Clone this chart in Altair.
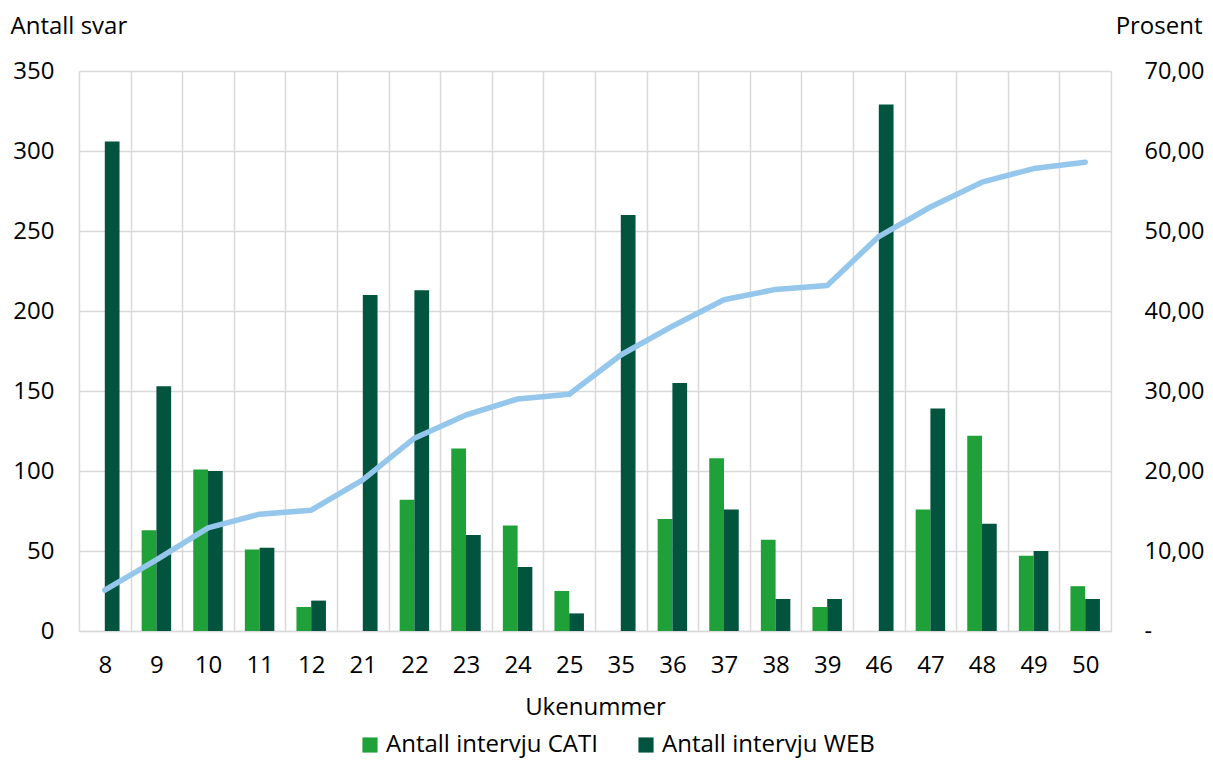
import altair as alt
import pandas as pd

weeks = ["8", "9", "10", "11", "12", "21", "22", "23", "24", "25",
         "35", "36", "37", "38", "39", "46", "47", "48", "49", "50"]
cati = [0, 63, 101, 51, 15, 0, 82, 114, 66, 25, 0, 70, 108, 57, 15, 0, 76, 122, 47, 28]
web = [306, 153, 100, 52, 19, 210, 213, 60, 40, 11, 260, 155, 76, 20, 20, 329, 139, 67, 50, 20]
prosent = [5.1, 8.9, 12.9, 14.6, 15.1, 18.9, 24.1, 27.0, 29.0, 29.6,
           34.5, 38.1, 41.4, 42.7, 43.2, 49.3, 53.0, 56.1, 57.8, 58.6]

series = ["Antall intervju CATI", "Antall intervju WEB"]
colors = ["#20A038", "#02543F"]

rows = []
for i, w in enumerate(weeks):
    rows.append({"Uke": w, "Serie": series[0], "Antall": cati[i]})
    rows.append({"Uke": w, "Serie": series[1], "Antall": web[i]})
bars_df = pd.DataFrame(rows)
line_df = pd.DataFrame({"Uke": weeks, "Prosent": prosent})

FONT = "Open Sans"
FS = 24
GRID = "#d9d9d9"

x_enc = alt.X("Uke:N", sort=weeks,
              scale=alt.Scale(paddingInner=0, paddingOuter=0),
              axis=alt.Axis(title="Ukenummer", labelAngle=0, ticks=False,
                            tickBand="extent", grid=True, gridColor=GRID, gridWidth=1.5,
                            domainColor=GRID, domainWidth=1.5,
                            labelPadding=22, titlePadding=18))

bars = alt.Chart(bars_df).mark_bar().encode(
    x=x_enc,
    xOffset=alt.XOffset("Serie:N", sort=series,
                        scale=alt.Scale(paddingInner=0, paddingOuter=0.75)),
    y=alt.Y("Antall:Q",
            scale=alt.Scale(domain=[0, 350], nice=False),
            axis=alt.Axis(title="Antall svar", values=[0, 50, 100, 150, 200, 250, 300, 350],
                          ticks=False, domain=False, grid=True, gridColor=GRID, gridWidth=1.5,
                          labelPadding=25, titleAngle=0, titleAlign="left",
                          titleBaseline="alphabetic", titleX=-69, titleY=-38)),
    color=alt.Color("Serie:N", sort=series,
                    scale=alt.Scale(domain=series, range=colors),
                    legend=alt.Legend(title=None, orient="none", direction="horizontal",
                                      legendX=279, legendY=662, symbolType="square",
                                      symbolSize=230, symbolStrokeWidth=0,
                                      columnPadding=36, labelFontSize=FS, labelFont=FONT,
                                      labelLimit=0, labelColor="#000000",
                                      symbolOpacity=1)),
)

line = alt.Chart(line_df).mark_line(color="#95C6EB", strokeWidth=5.5, strokeCap="round",
                                    strokeJoin="round").encode(
    x=alt.X("Uke:N", sort=weeks),
    y=alt.Y("Prosent:Q",
            scale=alt.Scale(domain=[0, 70], nice=False),
            axis=alt.Axis(title="Prosent", orient="right",
                          values=[0, 10, 20, 30, 40, 50, 60, 70],
                          labelExpr="datum.value == 0 ? '-' : replace(format(datum.value, '.2f'), '.', ',')",
                          ticks=False, domain=False, grid=False,
                          labelPadding=33, labelAlign="left", labelFontSize=23.5,
                          titleAngle=0, titleAlign="right",
                          titleBaseline="alphabetic", titleX=91, titleY=-38)),
)

chart = alt.layer(bars, line).resolve_scale(y="independent").properties(
    width=1032, height=560,
    autosize=alt.AutoSizeParams(type="none"),
    padding={"left": 71, "top": 63, "right": 94, "bottom": 129},
).configure_axis(
    labelFont=FONT, titleFont=FONT, labelFontSize=FS, titleFontSize=FS,
    labelColor="#000000", titleColor="#000000", titleFontWeight="normal",
).configure_legend(
    labelFont=FONT, labelFontSize=FS, labelColor="#000000", labelLimit=0,
).configure_view(stroke=None)

chart.save("out.html", embed_options={"renderer": "svg", "actions": False})
